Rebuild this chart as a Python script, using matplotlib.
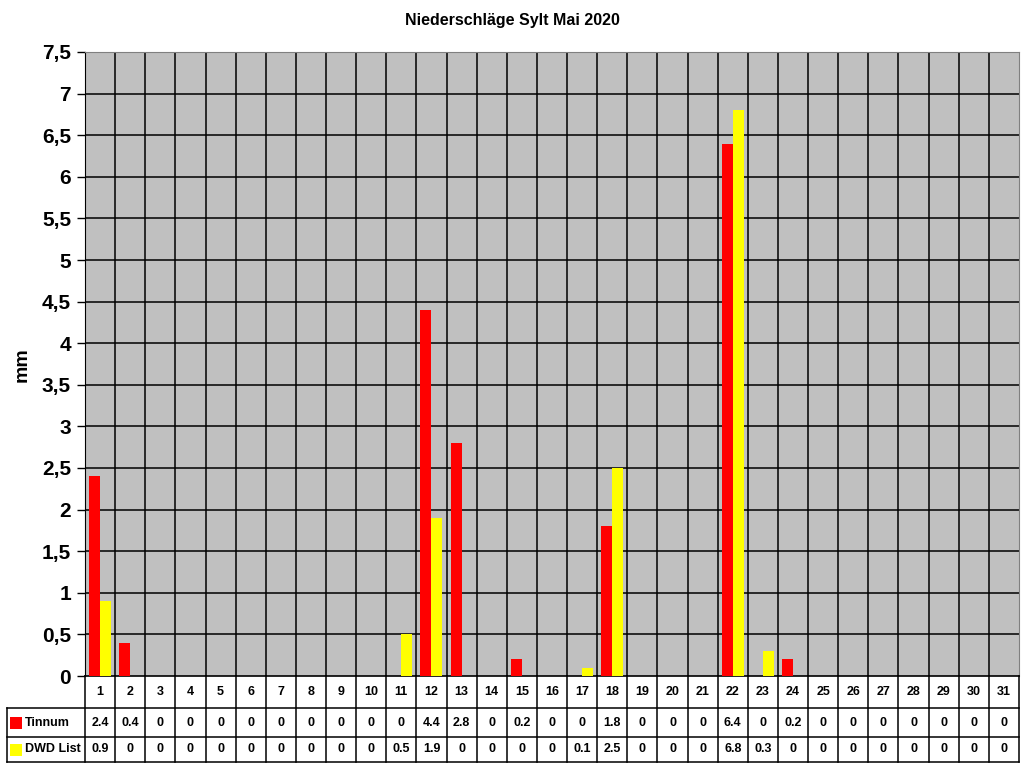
import matplotlib
matplotlib.use("Agg")
import matplotlib.pyplot as plt
from matplotlib.patches import Rectangle
from matplotlib.lines import Line2D

days = [str(d) for d in range(1, 32)]
tinnum = [2.4, 0.4, 0, 0, 0, 0, 0, 0, 0, 0, 0, 4.4, 2.8, 0, 0.2, 0, 0, 1.8,
          0, 0, 0, 6.4, 0, 0.2, 0, 0, 0, 0, 0, 0, 0]
dwd = [0.9, 0, 0, 0, 0, 0, 0, 0, 0, 0, 0.5, 1.9, 0, 0, 0, 0, 0.1, 2.5,
       0, 0, 0, 6.8, 0.3, 0, 0, 0, 0, 0, 0, 0, 0]
series_names = ["Tinnum", "DWD List"]
series_colors = ["#FF0000", "#FFFF00"]
yticks = [0, 0.5, 1, 1.5, 2, 2.5, 3, 3.5, 4, 4.5, 5, 5.5, 6, 6.5, 7, 7.5]
title = "Niederschläge Sylt Mai 2020"
ylabel = "mm"

plt.rcParams['font.family'] = ['Liberation Sans', 'DejaVu Sans']

W, H = 1024, 768
fig = plt.figure(figsize=(W / 100, H / 100), dpi=100)
L, R, T, B = 85, 1019, 52, 676
ax = fig.add_axes([L / W, 1 - B / H, (R - L) / W, (B - T) / H])
ax.set_facecolor("#C0C0C0")

n = len(days)
xs = list(range(1, n + 1))
bw = 0.365
ax.bar([x - bw / 2 for x in xs], tinnum, width=bw, color=series_colors[0], zorder=3)
ax.bar([x + bw / 2 for x in xs], dwd, width=bw, color=series_colors[1], zorder=3)

ax.set_xlim(0.5, n + 0.5)
ax.set_ylim(0, 7.5)
ax.set_yticks(yticks)
ax.set_yticklabels([("%g" % v).replace(".", ",") for v in yticks],
                   fontsize=15, fontweight="bold")
ax.set_xticks([])
for v in yticks[1:]:
    ax.axhline(v, color="black", lw=1.1, zorder=2)
for k in range(1, n):
    ax.axvline(k + 0.5, color="black", lw=1.1, zorder=2)
ax.tick_params(axis="y", length=6, width=1, direction="out", pad=4)
for s in ["top", "right"]:
    ax.spines[s].set_color("#808080")
ax.spines["left"].set_color("black")
ax.spines["bottom"].set_color("black")
ax.spines["bottom"].set_linewidth(1.2)

fig.text(0.5, 1 - 21 / H, title, ha="center", va="center", fontsize=11.5, fontweight="bold")
fig.text(22 / W, 1 - 365 / H, ylabel, rotation=90, ha="center", va="center",
         fontsize=14, fontweight="bold")

# Data table drawn in figure pixel coordinates
def fx(px):
    return px / W

def fy(py):
    return 1 - py / H

cw = (R - L) / n
row_y = [676, 708, 737, 762]
lab_left = 7
lines = []
lines.append(((lab_left, row_y[1]), (R, row_y[1])))
lines.append(((lab_left, row_y[2]), (R, row_y[2])))
lines.append(((lab_left, row_y[3]), (R, row_y[3])))
lines.append(((lab_left, row_y[1]), (lab_left, row_y[3])))
for k in range(n + 1):
    xk = L + k * cw
    lines.append(((xk, row_y[0]), (xk, row_y[3])))
for (x0, y0), (x1, y1) in lines:
    fig.add_artist(Line2D([fx(x0), fx(x1)], [fy(y0), fy(y1)], color="black",
                          lw=1.1, transform=fig.transFigure))

def fmt(v):
    return "%g" % v

for i in range(n):
    cx = fx(L + (i + 0.5) * cw)
    fig.text(cx, fy((row_y[0] + row_y[1]) / 2), days[i], ha="center", va="center",
             fontsize=9, fontweight="bold")
    fig.text(cx, fy((row_y[1] + row_y[2]) / 2), fmt(tinnum[i]), ha="center", va="center",
             fontsize=9, fontweight="bold")
    fig.text(cx, fy((row_y[2] + row_y[3]) / 2), fmt(dwd[i]), ha="center", va="center",
             fontsize=9, fontweight="bold")

for r, (name, col) in enumerate(zip(series_names, series_colors)):
    yc = (row_y[1 + r] + row_y[2 + r]) / 2
    fig.add_artist(Rectangle((fx(10), fy(yc + 6)), 12 / W, 12 / H, facecolor=col,
                             edgecolor="none", transform=fig.transFigure))
    fig.text(fx(25), fy(yc), name, ha="left", va="center", fontsize=9, fontweight="bold")

fig.savefig("out.png", dpi=100)
